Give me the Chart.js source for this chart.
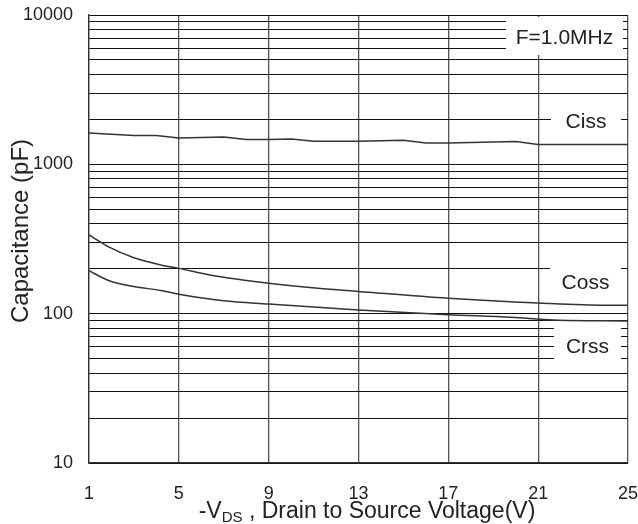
<!DOCTYPE html>
<html>
<head>
<meta charset="utf-8">
<script src="https://cdn.jsdelivr.net/npm/chart.js@4.4.1/dist/chart.umd.min.js"></script>
<style>
  html, body { margin: 0; padding: 0; background: #fff; }
  #wrap { width: 638px; height: 524px; }
</style>
</head>
<body>
<div id="wrap"><canvas id="chart"></canvas></div>
<script>
// Axis ticks
const voltTicks = [1, 5, 9, 13, 17, 21, 25]
const capGrid = [10, 20, 30, 40, 50, 60, 70, 80, 90,
  100, 200, 300, 400, 500, 600, 700, 800, 900,
  1000, 2000, 3000, 4000, 5000, 6000, 7000, 8000, 9000, 10000]
const capLabels = [10, 100, 1000, 10000]

// Curves (V, pF)
const cissV = [1, 3, 4, 5, 7, 8, 9, 10, 11, 13, 15, 16, 17, 20, 21, 25]
const cissC = [1620, 1560, 1560, 1500, 1525, 1465, 1465, 1480, 1425, 1425, 1450, 1390, 1390, 1420, 1360, 1360]

const cossV = [1, 1.9, 3, 4.2, 5, 6.5, 9, 11.2, 13, 17, 21, 24, 25]
const cossC = [337, 279, 237, 212, 201, 180, 160, 148, 141, 127, 118, 114, 114]

const crssV = [1, 1.9, 3, 4.2, 5, 7, 9, 13, 17, 19.8, 21.7, 25]
const crssC = [194, 166, 152, 143, 135, 122, 116, 106, 98.5, 94.5, 90.7, 89.3]

const FONT = "'Liberation Sans', Arial, sans-serif"
const INK = "#222"

function pts(xs, ys) {
  return xs.map((x, i) => ({ x: x, y: ys[i] }))
}

function curve(label, xs, ys, smooth) {
  return {
    label: label,
    data: pts(xs, ys),
    borderColor: "#333",
    borderWidth: 1.5,
    pointRadius: 0,
    fill: false,
    tension: 0,
    cubicInterpolationMode: smooth ? "monotone" : "default",
  }
}

// White boxes with labels sitting on the grid, plus axis titles
const labelsPlugin = {
  id: "labels",
  beforeDatasetsDraw(chart) {
    const ctx = chart.ctx
    const a = chart.chartArea
    const boxes = [
      { text: "F=1.0MHz", l: a.right - 122, r: a.right - 5, t: a.top + 2, b: a.top + 40, cy: a.top + 23 },
      { text: "Ciss", l: a.right - 77, r: a.right - 7, t: a.top + 85, b: a.top + 123, cy: a.top + 107 },
      { text: "Coss", l: a.right - 78, r: a.right - 7, t: a.top + 240, b: a.top + 285, cy: a.top + 268 },
      { text: "Crss", l: a.right - 74, r: a.right - 7, t: a.top + 309, b: a.top + 349, cy: a.top + 332 },
    ]
    ctx.save()
    boxes.forEach((bx) => {
      ctx.fillStyle = "#fff"
      ctx.fillRect(bx.l, bx.t, bx.r - bx.l, bx.b - bx.t)
      ctx.fillStyle = INK
      ctx.font = "21px " + FONT
      ctx.textAlign = "center"
      ctx.textBaseline = "middle"
      ctx.fillText(bx.text, (bx.l + bx.r) / 2, bx.cy)
    })
    ctx.restore()
  },
  afterDraw(chart) {
    const ctx = chart.ctx
    ctx.save()
    ctx.fillStyle = INK

    // y title
    ctx.font = "24px " + FONT
    ctx.translate(21, 231)
    ctx.rotate(-Math.PI / 2)
    ctx.textAlign = "center"
    ctx.textBaseline = "middle"
    ctx.fillText("Capacitance (pF)", 0, 0)
    ctx.setTransform(1, 0, 0, 1, 0, 0)
    ctx.scale(chart.currentDevicePixelRatio, chart.currentDevicePixelRatio)

    // x title with subscript
    const main = "23px " + FONT
    const sub = "15px " + FONT
    const p1 = "-V", p2 = "DS", p3 = " , Drain to Source Voltage(V)"
    ctx.font = main
    const w1 = ctx.measureText(p1).width
    const w3 = ctx.measureText(p3).width
    ctx.font = sub
    const w2 = ctx.measureText(p2).width
    let x = 367 - (w1 + w2 + w3) / 2
    const base = 518
    ctx.textAlign = "left"
    ctx.textBaseline = "alphabetic"
    ctx.font = main
    ctx.fillText(p1, x, base)
    x += w1
    ctx.font = sub
    ctx.fillText(p2, x, base + 4)
    x += w2
    ctx.font = main
    ctx.fillText(p3, x, base)
    ctx.restore()
  },
}

new Chart(document.getElementById("chart"), {
  type: "line",
  data: {
    datasets: [
      curve("Ciss", cissV, cissC, false),
      curve("Coss", cossV, cossC, true),
      curve("Crss", crssV, crssC, true),
    ],
  },
  options: {
    responsive: true,
    maintainAspectRatio: false,
    animation: false,
    layout: { padding: { top: 15, right: 10, left: 0, bottom: 0 } },
    plugins: {
      legend: { display: false },
      tooltip: { enabled: false },
    },
    scales: {
      x: {
        type: "linear",
        min: 1,
        max: 25,
        afterBuildTicks: (scale) => {
          scale.ticks = voltTicks.map((v) => ({ value: v }))
        },
        afterFit: (scale) => {
          scale.height = 61
          scale.paddingLeft = 0
          scale.paddingRight = 0
        },
        ticks: {
          autoSkip: false,
          maxRotation: 0,
          padding: 20,
          color: INK,
          font: { family: FONT, size: 18 },
        },
        grid: { color: "#555", lineWidth: 1.3, drawTicks: false },
        border: { color: "#333", width: 1.3 },
      },
      y: {
        type: "logarithmic",
        min: 10,
        max: 10000,
        afterBuildTicks: (scale) => {
          scale.ticks = capGrid.map((v) => ({ value: v }))
        },
        afterFit: (scale) => {
          scale.width = 89
          scale.paddingTop = 0
          scale.paddingBottom = 0
        },
        ticks: {
          autoSkip: false,
          padding: 16,
          color: INK,
          font: { family: FONT, size: 18 },
          callback: (v) => (capLabels.includes(v) ? String(v) : ""),
        },
        grid: { color: "#111", lineWidth: 1, drawTicks: false },
        border: { color: "#333", width: 1.3 },
      },
    },
  },
  plugins: [labelsPlugin],
})
</script>
</body>
</html>
